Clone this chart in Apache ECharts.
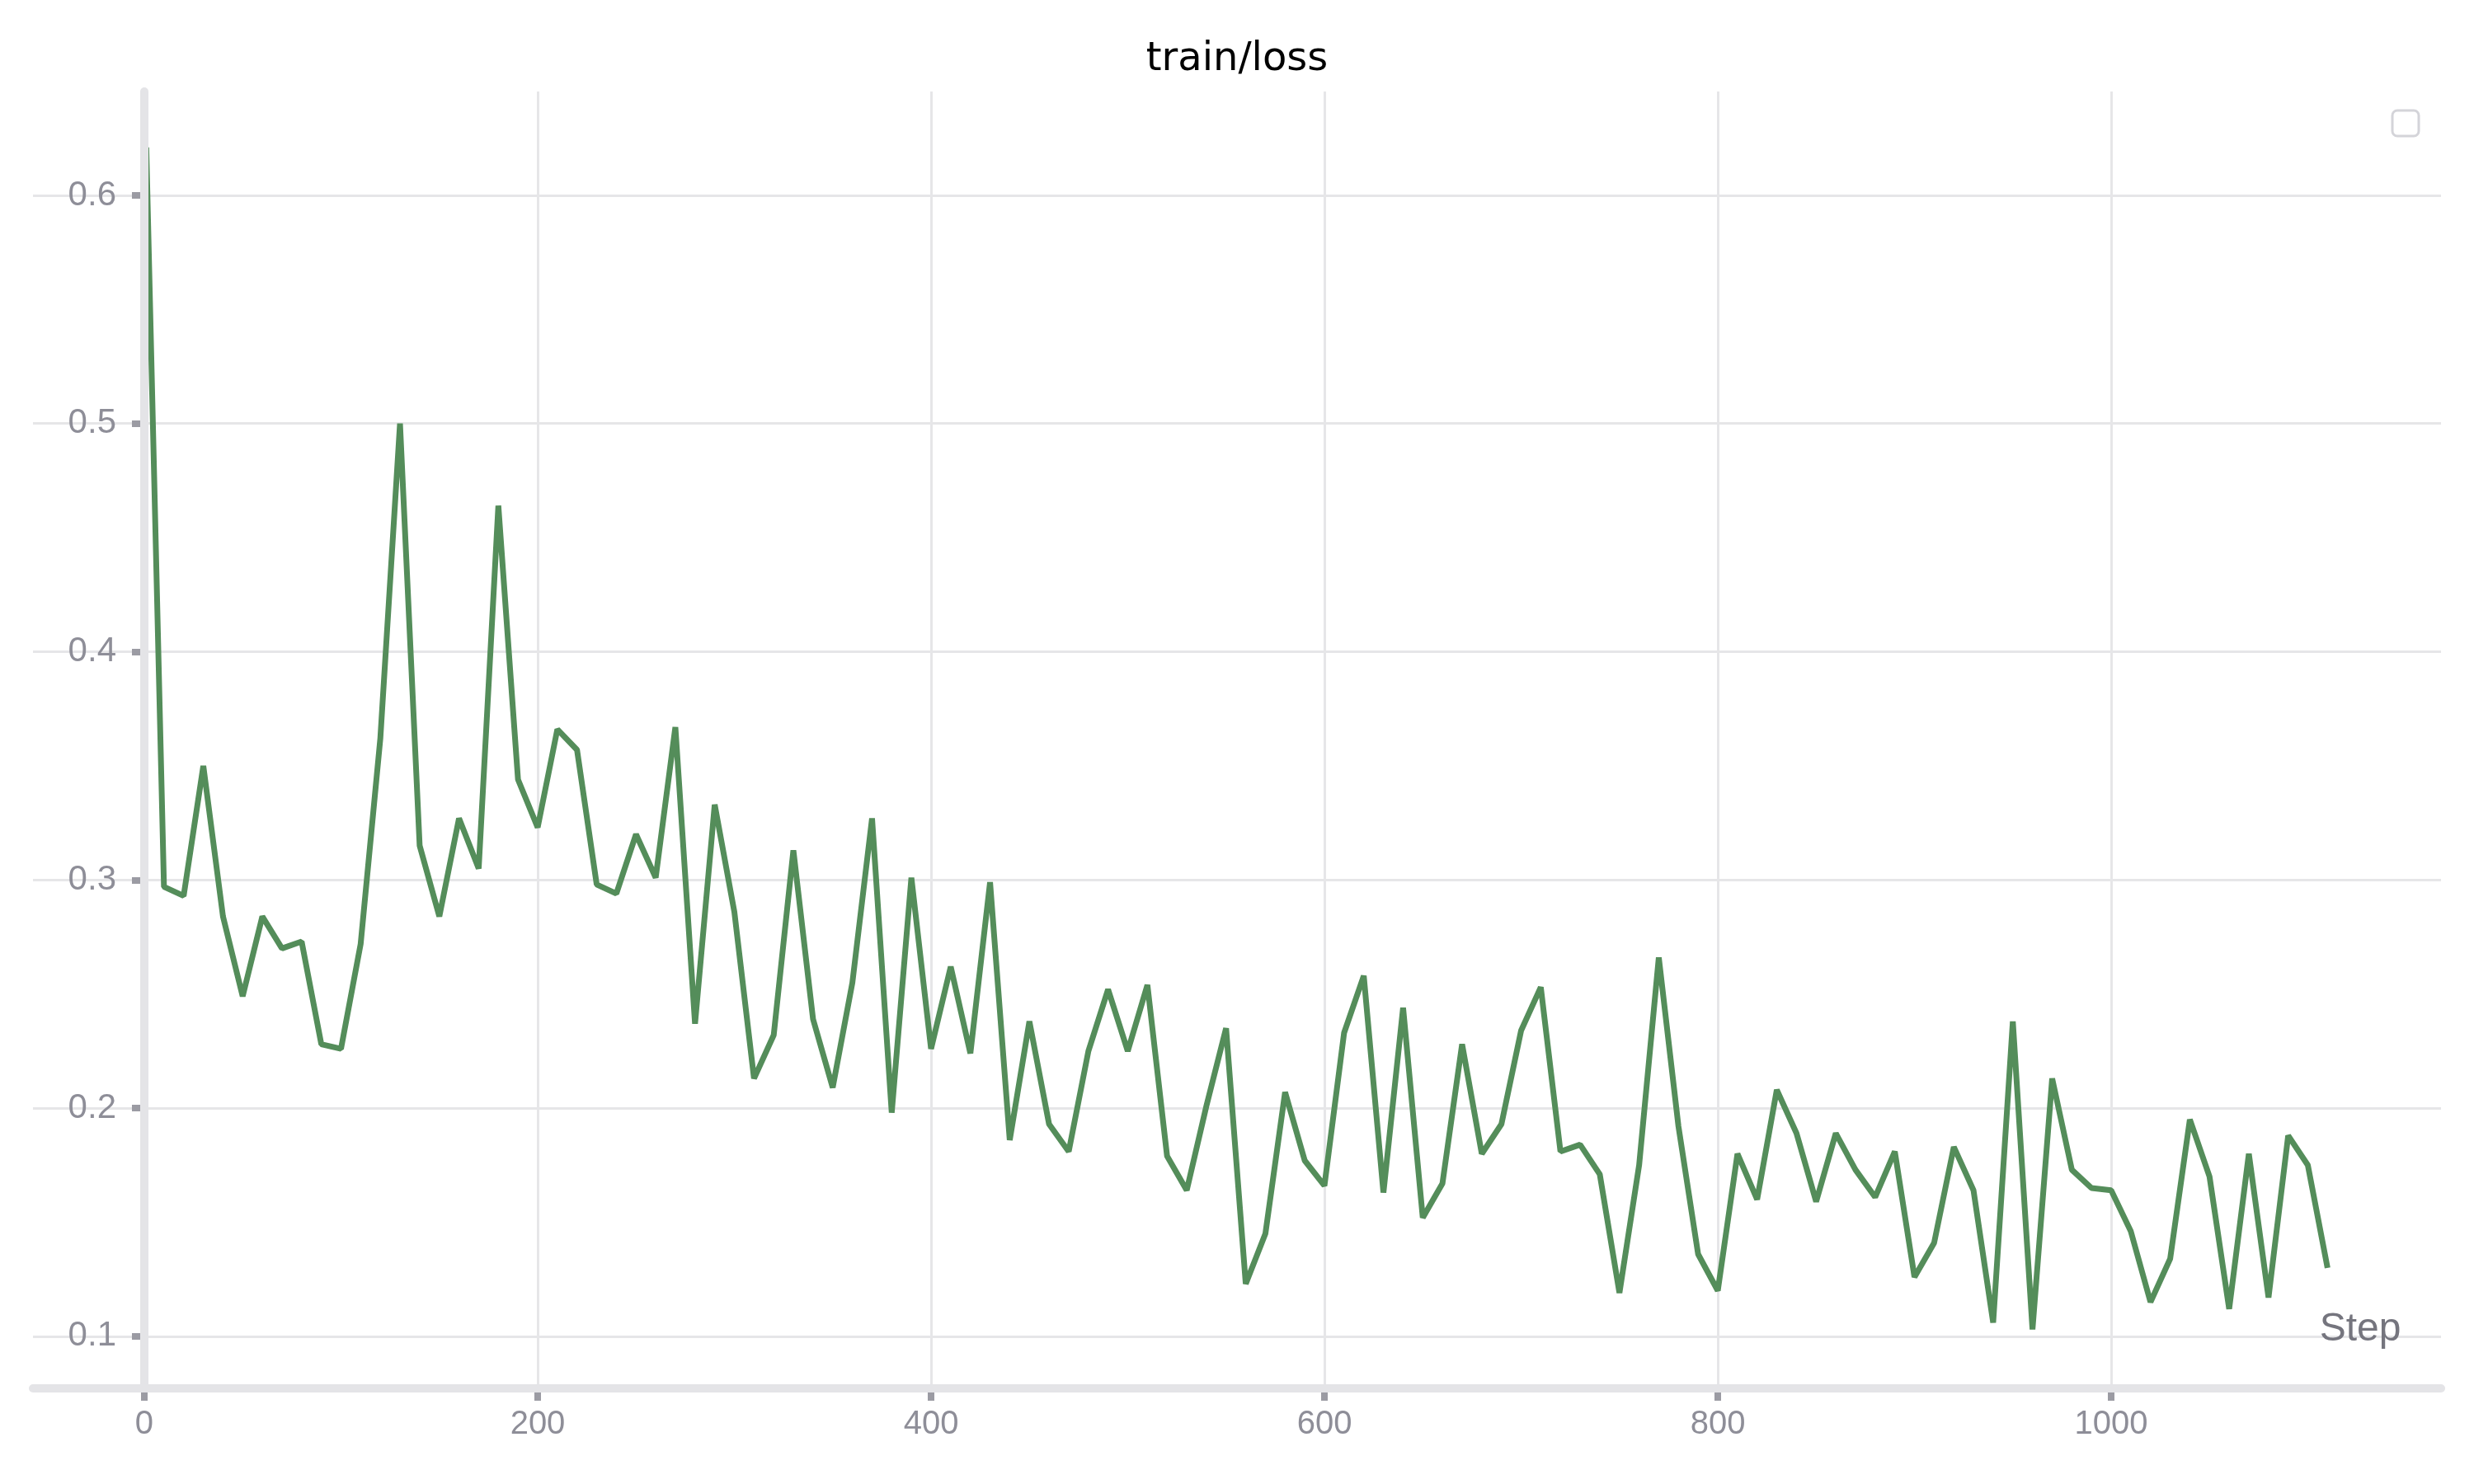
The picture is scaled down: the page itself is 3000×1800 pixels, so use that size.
<!DOCTYPE html>
<html>
<head>
<meta charset="utf-8">
<script src="https://cdn.jsdelivr.net/npm/echarts@6/dist/echarts.min.js"></script>
<style>
html,body{margin:0;padding:0;background:#ffffff;}
#chart{width:3000px;height:1800px;}
</style>
</head>
<body>
<div id="chart"></div>
<script>
// ---- data ----
const titleText = 'train/loss';
const xAxisName = 'Step';
const steps = [1,10,20,30,40,50,60,70,80,90,100,110,120,130,140,150,160,170,180,190,
  200,210,220,230,240,250,260,270,280,290,300,310,320,330,340,350,360,370,380,390,
  400,410,420,430,440,450,460,470,480,490,500,510,520,530,540,550,560,570,580,590,
  600,610,620,630,640,650,660,670,680,690,700,710,720,730,740,750,760,770,780,790,
  800,810,820,830,840,850,860,870,880,890,900,910,920,930,940,950,960,970,980,990,
  1000,1010,1020,1030,1040,1050,1060,1070,1080,1090,1100,1110];
const loss = [0.621,0.297,0.293,0.350,0.284,0.249,0.284,0.270,0.273,0.228,0.226,0.272,0.362,0.500,0.315,0.284,0.327,0.305,0.464,0.344,
  0.323,0.366,0.357,0.298,0.294,0.320,0.301,0.367,0.237,0.333,0.286,0.213,0.232,0.313,0.239,0.209,0.255,0.327,0.198,0.301,
  0.226,0.262,0.224,0.299,0.186,0.238,0.193,0.181,0.225,0.252,0.225,0.254,0.179,0.164,0.201,0.235,0.123,0.145,0.207,0.177,
  0.166,0.233,0.258,0.163,0.244,0.152,0.167,0.228,0.180,0.193,0.234,0.253,0.181,0.184,0.171,0.119,0.175,0.266,0.192,0.136,
  0.120,0.180,0.160,0.208,0.189,0.159,0.189,0.173,0.161,0.181,0.126,0.141,0.183,0.164,0.106,0.238,0.103,0.213,0.173,0.165,
  0.164,0.146,0.115,0.134,0.195,0.170,0.112,0.180,0.117,0.188,0.175,0.130];
const xTicks = [0,200,400,600,800,1000];
const yTicks = [0.1,0.2,0.3,0.4,0.5,0.6];
const xRange = [-56.6, 1167.7];
const yRange = [0.0772, 0.6455];

// ---- chart ----
const chart = echarts.init(document.getElementById('chart'), null, {renderer:'canvas'});
const seriesData = steps.map((s,i)=>[s, loss[i]]);
const labelColor = '#8e8e98';
const tickColor = '#9b9ba3';
const axisLineColor = '#e4e4e7';
const gridColor = '#e6e6e8';

chart.setOption({
  animation: false,
  backgroundColor: '#ffffff',
  title: {
    text: titleText,
    left: 'center',
    top: 44,
    textStyle: {fontFamily: 'DejaVu Sans', fontSize: 48, fontWeight: 'normal', color: '#000000'}
  },
  grid: {left: 40, right: 40, top: 111, bottom: 116, containLabel: false, outerBoundsMode: 'none'},
  xAxis: [{
    type: 'value', min: xRange[0], max: xRange[1],
    axisLine: {show: true, onZero: false, lineStyle: {opacity: 0}},
    axisTick: {show: true, customValues: xTicks, length: 15, lineStyle: {color: tickColor, width: 8}},
    axisLabel: {show: true, customValues: xTicks, margin: 24, fontFamily: 'Liberation Sans', fontSize: 40, color: labelColor,
      formatter: v => String(Math.round(v))},
    splitLine: {show: true, lineStyle: {color: gridColor, width: 3}}
  }, {
    type: 'value', min: xRange[0], max: xRange[1], position: 'bottom', z: 5,
    axisLine: {show: true, onZero: false, lineStyle: {color: axisLineColor, width: 10}},
    axisTick: {show: false}, axisLabel: {show: false}, splitLine: {show: false}
  }],
  yAxis: [{
    type: 'value', min: yRange[0], max: yRange[1], position: 'left',
    axisLine: {show: true, onZero: true, lineStyle: {opacity: 0}},
    axisTick: {show: true, customValues: yTicks, length: 15, lineStyle: {color: tickColor, width: 8}},
    axisLabel: {show: true, customValues: yTicks, margin: -101, fontFamily: 'Liberation Sans', fontSize: 42, color: labelColor,
      formatter: v => v.toFixed(1)},
    splitLine: {show: true, lineStyle: {color: gridColor, width: 3}}
  }, {
    type: 'value', min: yRange[0], max: yRange[1], position: 'left', z: 5,
    axisLine: {show: true, onZero: true, lineStyle: {color: axisLineColor, width: 10}},
    axisTick: {show: false}, axisLabel: {show: false}, splitLine: {show: false}
  }],
  series: [{
    type: 'line',
    xAxisIndex: 0, yAxisIndex: 0,
    data: seriesData,
    showSymbol: false,
    symbol: 'none',
    lineStyle: {color: '#548d5a', width: 7, cap: 'butt', join: 'bevel'},
    itemStyle: {color: '#548d5a'},
    z: 2
  }],
  graphic: [{
    type: 'text', x: 2862, y: 1613, z: 10,
    style: {text: xAxisName, font: '48px "Liberation Sans"', fill: '#75757e', align: 'center', verticalAlign: 'middle'}
  }, {
    type: 'rect', z: 10,
    shape: {x: 2901, y: 134, width: 32, height: 31, r: 6},
    style: {fill: '#ffffff', stroke: '#d4d4d9', lineWidth: 3}
  }]
});
</script>
</body>
</html>
